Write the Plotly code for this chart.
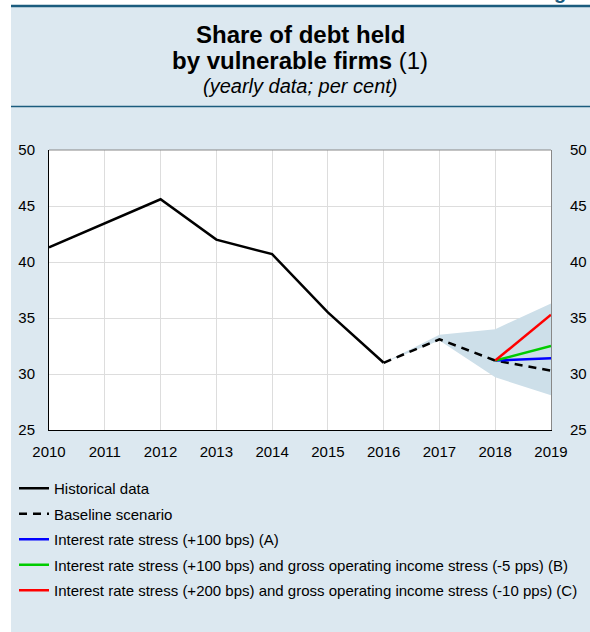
import plotly.graph_objects as go

# ---- data ----
hist_years = [2010, 2011, 2012, 2013, 2014, 2015, 2016]
hist_values = [41.3, 43.45, 45.6, 42.0, 40.7, 35.5, 31.0]

base_years = [2016, 2017, 2018, 2019]
base_values = [31.0, 33.1, 31.2, 30.3]

band_years = [2016, 2017, 2018, 2019]
band_upper = [31.0, 33.5, 34.0, 36.3]
band_lower = [31.0, 33.0, 29.7, 28.1]

scen_years = [2018, 2019]
scen_a = [31.2, 31.4]
scen_b = [31.2, 32.5]
scen_c = [31.2, 35.3]

x_ticks = [2010, 2011, 2012, 2013, 2014, 2015, 2016, 2017, 2018, 2019]
y_ticks = [25, 30, 35, 40, 45, 50]

names = [
    "Historical data",
    "Baseline scenario",
    "Interest rate stress (+100 bps) (A)",
    "Interest rate stress (+100 bps) and gross operating income stress (-5 pps) (B)",
    "Interest rate stress (+200 bps) and gross operating income stress (-10 pps) (C)",
]

# ---- layout geometry ----
W, H = 590, 632
L, R, T, B = 49, 39, 150, 202
PW, PH = W - L - R, H - T - B


def PX(x):
    return (x - L) / PW


def PY(y):
    return (H - B - y) / PH


BG = "#dce8f0"
DARK = "#1b5c7e"
FONT = "Liberation Sans, Arial, Helvetica, sans-serif"

fig = go.Figure()

fig.add_trace(go.Scatter(
    x=band_years + band_years[::-1], y=band_upper + band_lower[::-1],
    fill="toself", fillcolor="#cddfe9", line=dict(width=0), mode="lines",
    showlegend=False, hoverinfo="skip", yaxis="y"))

fig.add_trace(go.Scatter(x=hist_years, y=hist_values, mode="lines", name=names[0], yaxis="y2",
                         line=dict(color="black", width=2.5), legendgroup="g1"))
fig.add_trace(go.Scatter(x=base_years, y=base_values, mode="lines", name=names[1], yaxis="y2",
                         line=dict(color="black", width=2.5, dash="8px,6px"), legendgroup="g2"))
fig.add_trace(go.Scatter(x=scen_years, y=scen_a, mode="lines", name=names[2], yaxis="y2",
                         line=dict(color="#0000ff", width=2.5), legendgroup="g3"))
fig.add_trace(go.Scatter(x=scen_years, y=scen_b, mode="lines", name=names[3], yaxis="y2",
                         line=dict(color="#00cc00", width=2.5), legendgroup="g4"))
fig.add_trace(go.Scatter(x=scen_years, y=scen_c, mode="lines", name=names[4], yaxis="y2",
                         line=dict(color="#ff0000", width=2.5), legendgroup="g5"))

shapes = [
    dict(type="rect", xref="paper", yref="paper", x0=PX(-5), x1=PX(11), y0=PY(H + 5), y1=PY(-5),
         fillcolor="white", line=dict(width=0), layer="below"),
    dict(type="rect", xref="paper", yref="paper", x0=PX(-5), x1=PX(W + 5), y0=PY(5), y1=PY(-5),
         fillcolor="white", line=dict(width=0), layer="below"),
    dict(type="line", xref="paper", yref="paper", x0=PX(11), x1=PX(W + 2), y0=PY(6), y1=PY(6),
         line=dict(color=DARK, width=2.5)),
    dict(type="line", xref="paper", yref="paper", x0=PX(11), x1=PX(W + 2), y0=PY(106.5), y1=PY(106.5),
         line=dict(color=DARK, width=1.5)),
    dict(type="line", xref="paper", yref="paper", x0=0, x1=1, y0=1, y1=1,
         line=dict(color="#888888", width=1)),
]

annotations = [
    dict(xref="paper", yref="paper", x=PX(300), y=PY(35), xanchor="center", yanchor="middle",
         text="<b>Share of debt held</b>", showarrow=False,
         font=dict(family=FONT, size=24, color="black")),
    dict(xref="paper", yref="paper", x=PX(300), y=PY(60), xanchor="center", yanchor="middle",
         text="<b>by vulnerable firms</b> (1)", showarrow=False,
         font=dict(family=FONT, size=24, color="black")),
    dict(xref="paper", yref="paper", x=PX(300), y=PY(86), xanchor="center", yanchor="middle",
         text="<i>(yearly data; per cent)</i>", showarrow=False,
         font=dict(family=FONT, size=20, color="black")),
    dict(xref="paper", yref="paper", x=PX(560), y=PY(5), xanchor="center", yanchor="bottom",
         text="<b>g</b>", showarrow=False,
         font=dict(family=FONT, size=20, color=DARK)),
]

fig.update_layout(
    width=W, height=H, autosize=False,
    margin=dict(l=L, r=R, t=T, b=B, pad=0, autoexpand=False),
    paper_bgcolor=BG, plot_bgcolor="white",
    font=dict(family=FONT, size=15, color="black"),
    showlegend=True,
    legend=dict(x=PX(14), y=PY(472), xanchor="left", yanchor="top",
                bgcolor="rgba(0,0,0,0)", font=dict(family=FONT, size=15, color="black"),
                tracegroupgap=3, itemwidth=30),
    xaxis=dict(range=[2010, 2019], tickvals=x_ticks, ticktext=[str(v) for v in x_ticks],
               showgrid=True, gridcolor="#dddddd", gridwidth=1, zeroline=False,
               showline=True, linecolor="black", linewidth=1, ticks="",
               ticklabelstandoff=8, tickfont=dict(size=15)),
    yaxis=dict(range=[25, 50], tickvals=y_ticks, showgrid=True, gridcolor="#dddddd",
               gridwidth=1, zeroline=False, showline=True, linecolor="black", linewidth=1,
               ticks="", ticklabelstandoff=10, tickfont=dict(size=15)),
    yaxis2=dict(range=[25, 50], tickvals=y_ticks, overlaying="y", side="right",
                showgrid=False, zeroline=False, showline=True, linecolor="#888888",
                linewidth=1, ticks="", ticklabelstandoff=15, tickfont=dict(size=15)),
    shapes=shapes, annotations=annotations,
)

fig.write_html("out.html", config={"displayModeBar": False},
               post_script="document.body.style.margin='0';")
